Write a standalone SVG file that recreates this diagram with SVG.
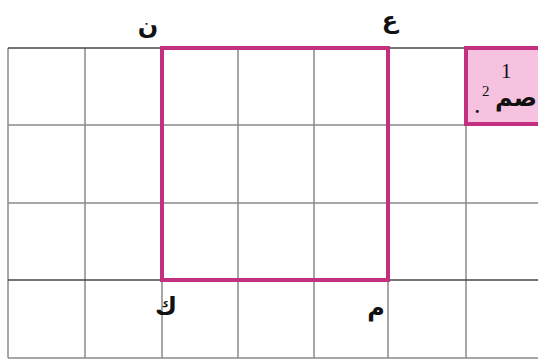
<svg xmlns="http://www.w3.org/2000/svg" width="538" height="360" viewBox="0 0 538 360">
<style>
.g{stroke:#8a8a8a;stroke-width:1.5;fill:none}
.gd{stroke:#444;stroke-width:1.5;fill:none}
.p{stroke:#c2307f;stroke-width:4;fill:none}
.t{font-family:"DejaVu Sans","Noto Sans",sans-serif;fill:#111;font-size:24px;font-weight:bold}
.s{font-family:"Liberation Serif",serif;fill:#111}
</style>
<rect width="538" height="360" fill="#fff"/>
<g id="grid">
<line class="g" x1="8" y1="48" x2="8" y2="358"/>
<line class="g" x1="85" y1="48" x2="85" y2="358"/>
<line class="g" x1="162" y1="48" x2="162" y2="358"/>
<line class="g" x1="238" y1="48" x2="238" y2="358"/>
<line class="g" x1="314" y1="48" x2="314" y2="358"/>
<line class="g" x1="388" y1="48" x2="388" y2="358"/>
<line class="g" x1="466" y1="48" x2="466" y2="358"/>
<line class="gd" x1="8" y1="48" x2="538" y2="48"/>
<line class="g" x1="8" y1="125" x2="538" y2="125"/>
<line class="g" x1="8" y1="203" x2="538" y2="203"/>
<line class="gd" x1="8" y1="280" x2="538" y2="280"/>
<line class="g" x1="8" y1="358" x2="538" y2="358"/>
</g>
<g id="unit">
<rect x="466" y="48" width="76" height="76" fill="#f7c2df" stroke="#c2307f" stroke-width="4"/>
<text class="s" x="501" y="78" font-size="21">1</text>
<text class="s" x="482" y="96" font-size="15">2</text>
<text class="t" x="537" y="106" text-anchor="end" font-size="24" font-weight="normal">صم</text>
<text class="s" x="475" y="113" font-size="18" font-weight="bold">.</text>
</g>
<g id="square">
<rect class="p" x="162" y="48" width="226" height="232"/>
</g>
<g id="labels">
<text class="t" x="148" y="34" text-anchor="middle">ن</text>
<text class="t" x="390" y="28" text-anchor="middle">ع</text>
<text class="t" x="166" y="314" text-anchor="middle">ك</text>
<text class="t" x="376" y="316" text-anchor="middle">م</text>
</g>
</svg>
